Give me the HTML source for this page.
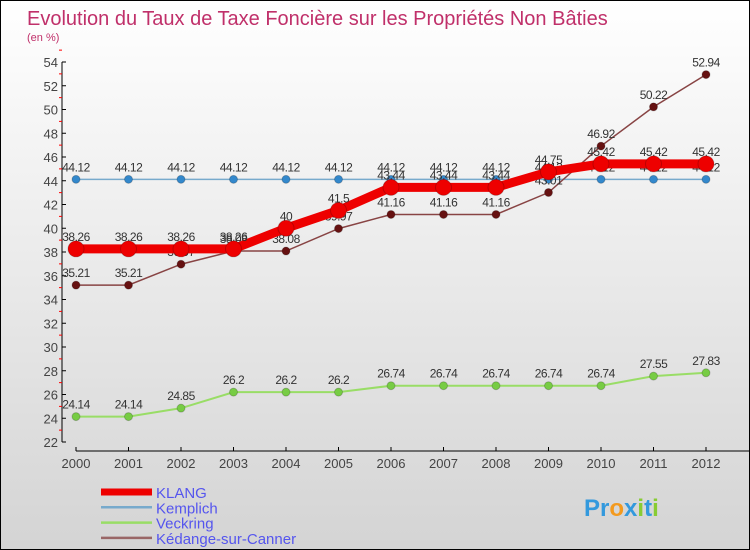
<!DOCTYPE html>
<html><head><meta charset="utf-8"><style>
body{margin:0}
#c{width:748px;height:548px;border:1px solid #000;background:linear-gradient(#fff,#d4d4d4);position:relative;font-family:"Liberation Sans",sans-serif;overflow:hidden}
</style></head><body>
<div id="c">
<svg id="s" width="748" height="548">
<text x="26" y="24" font-size="20" fill="#c0306a">Evolution du Taux de Taxe Foncière sur les Propriétés Non Bâties</text>
<text x="26" y="40" font-size="11" fill="#c0306a">(en %)</text>
</svg>
</div>
<script>
const years=["2000","2001","2002","2003","2004","2005","2006","2007","2008","2009","2010","2011","2012"];
const klang=[38.26,38.26,38.26,38.26,40,41.5,43.44,43.44,43.44,44.75,45.42,45.42,45.42];
const kemplich=[44.12,44.12,44.12,44.12,44.12,44.12,44.12,44.12,44.12,44.12,44.12,44.12,44.12];
const veckring=[24.14,24.14,24.85,26.2,26.2,26.2,26.74,26.74,26.74,26.74,26.74,27.55,27.83];
const kedange=[35.21,35.21,36.97,38.08,38.08,39.97,41.16,41.16,41.16,43.01,46.92,50.22,52.94];
const yTicks=[22,24,26,28,30,32,34,36,38,40,42,44,46,48,50,52,54];
const names=["KLANG","Kemplich","Veckring","Kédange-sur-Canner"];
const s=document.getElementById('s');const NS='http://www.w3.org/2000/svg';
const X=i=>75+i*52.5, Y=v=>441-(v-22)*11.875;
function el(t,a,p){const e=document.createElementNS(NS,t);for(const k in a)e.setAttribute(k,a[k]);(p||s).appendChild(e);return e;}
let ax=el('line',{x1:61,y1:61,x2:61,y2:441,stroke:'#000'});


let xa=el('line',{x1:75,y1:450,x2:748,y2:450,stroke:'#000'});


yTicks.forEach(v=>{el('line',{x1:61,y1:Y(v),x2:65,y2:Y(v),stroke:'#000'});el('line',{x1:58,y1:Y(v+1),x2:61,y2:Y(v+1),stroke:'#f00'});
let t=el('text',{x:57,y:Y(v)+5,'font-size':13,fill:'#444','text-anchor':'end'});t.textContent=v;

});
years.forEach((y,i)=>{el('line',{x1:X(i),y1:446,x2:X(i),y2:450,stroke:'#000'});
let t=el('text',{x:X(i),y:467,'font-size':13,fill:'#444','text-anchor':'middle'});t.textContent=y;

});
function series(d,col,w,r,nm,dot){
 let p=el('polyline',{points:d.map((v,i)=>X(i)+','+Y(v)).join(' '),fill:'none',stroke:col,'stroke-width':w});
 
 
 d.forEach((v,i)=>{let c=el('circle',{cx:X(i),cy:Y(v),r:r,fill:dot,stroke:'#0003'});
 
 
 let t=el('text',{x:X(i),y:Y(v)-8,'font-size':12,fill:'#333','text-anchor':'middle','letter-spacing':'-0.5'});t.textContent=v;
 
 });
}
series(veckring,'#99dd66',2,4,'veckring','#77cc44');
series(kemplich,'#77aacc',1.5,4,'kemplich','#3388cc');
series(kedange,'#884444',1.5,4,'kedange','#661111');
series(klang,'#ee0000',9,8,'klang','#ee0000');
const lc=['#ee0000','#77aacc','#99dd66','#996666'],lw=[7,2.5,2.5,2.5];
names.forEach((n,i)=>{let y=491+i*15.3;
 el('line',{x1:100,y1:y,x2:151,y2:y,stroke:lc[i],'stroke-width':lw[i]});
 let t=el('text',{x:155,y:y+6,'font-size':15,fill:'#5555ee'});t.textContent=n;
 
 });
let b=el('text',{x:583,y:515,'font-size':24,'font-weight':'bold',fill:'#3399dd'});
b.innerHTML='<tspan fill="#3399dd">Pr</tspan><tspan fill="#f39a1e">o</tspan><tspan fill="#3399dd">x</tspan><tspan fill="#88cc33">i</tspan><tspan fill="#3399dd">t</tspan><tspan fill="#88cc33">i</tspan>';


</script>
</body></html>
